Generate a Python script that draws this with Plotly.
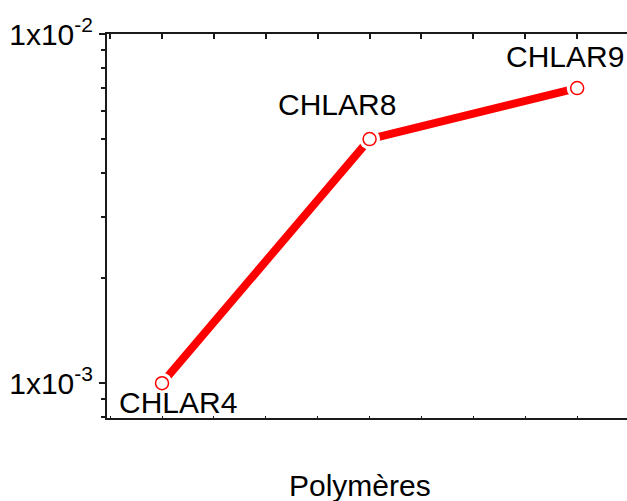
import numpy as np
import plotly.graph_objects as go

# Polymer samples and their measured values
polymers = ["CHLAR4", "CHLAR8", "CHLAR9"]
positions = [1, 2, 3]
values = [1.0e-3, 5.0e-3, 7.0e-3]

# Label offsets (pixels) for each point label
label_dx = [16, -33, -12]
label_dy = [-19, 35, 32]

y_major = [1e-3, 1e-2]
y_major_text = ["1x10<sup>-3</sup>", "1x10<sup>-2</sup>"]
y_minor = [8e-4, 9e-4] + [k * 1e-3 for k in range(2, 10)]

FONT = "Liberation Sans, Arial, sans-serif"
RED = "#ff0000"
AXIS = "#1a1a1a"

fig = go.Figure()

# connecting line
fig.add_trace(go.Scatter(
    x=positions, y=values, mode="lines",
    line=dict(color=RED, width=8), hoverinfo="skip", showlegend=False,
))
# white halo to leave a gap between the line and each marker
fig.add_trace(go.Scatter(
    x=positions, y=values, mode="markers",
    marker=dict(symbol="circle", size=21, color="white", line=dict(width=0)),
    hoverinfo="skip", showlegend=False,
))
# open circle markers
fig.add_trace(go.Scatter(
    x=positions, y=values, mode="markers",
    marker=dict(symbol="circle", size=13, color="white",
                line=dict(color=RED, width=1.5)),
    showlegend=False,
))
# invisible trace so the top axis is drawn
fig.add_trace(go.Scatter(
    x=positions, y=values, xaxis="x2", mode="markers",
    marker=dict(opacity=0), hoverinfo="skip", showlegend=False,
))

for name, x, y, dx, dy in zip(polymers, positions, values, label_dx, label_dy):
    fig.add_annotation(
        x=x, y=np.log10(y), text=name, showarrow=False,
        xshift=dx, yshift=dy,
        font=dict(family=FONT, size=30, color="black"),
    )

fig.add_annotation(
    xref="paper", yref="paper", x=(360 - 107) / 520, y=-67 / 384,
    xanchor="center", yanchor="middle",
    text="Polymères", showarrow=False,
    font=dict(family=FONT, size=30, color="black"),
)

x_range = [0.735, 3.24]

fig.update_layout(
    width=627, height=501,
    margin=dict(l=107, r=0, t=34, b=83),
    paper_bgcolor="white", plot_bgcolor="white",
    xaxis=dict(
        range=x_range, showgrid=False, zeroline=False,
        showline=True, linecolor=AXIS, linewidth=2,
        ticks="inside", ticklen=2, tickwidth=1, tickcolor=AXIS,
        dtick=0.25, tick0=0, showticklabels=False,
    ),
    xaxis2=dict(
        range=x_range, overlaying="x", side="top", showgrid=False,
        zeroline=False, showline=True, linecolor=AXIS, linewidth=2,
        ticks="inside", ticklen=5, tickwidth=1.5, tickcolor=AXIS,
        dtick=0.25, tick0=0, showticklabels=False,
    ),
    yaxis=dict(
        type="log", range=[np.log10(7.95e-4), -2.0],
        showgrid=False, zeroline=False,
        showline=True, linecolor=AXIS, linewidth=2,
        tickvals=y_major, ticktext=y_major_text,
        ticks="outside", ticklen=6, tickwidth=1.5, tickcolor=AXIS,
        tickfont=dict(family=FONT, size=30, color="black"),
        minor=dict(tickvals=y_minor, ticks="outside", ticklen=4,
                   tickwidth=1.5, tickcolor=AXIS, showgrid=False),
    ),
)

fig.write_html("out.html")
